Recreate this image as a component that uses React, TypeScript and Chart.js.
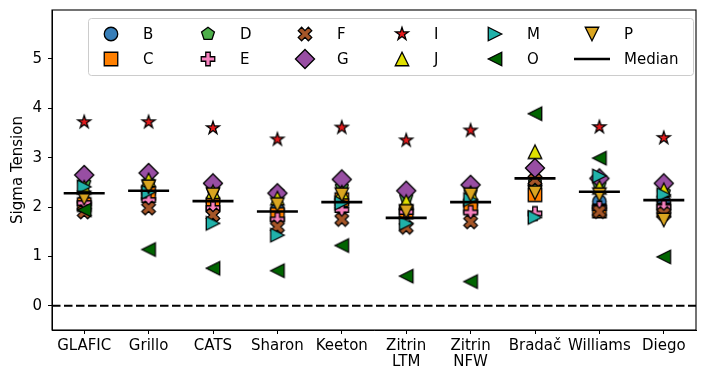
import React, { useEffect, useRef } from "react";
import { Chart, registerables } from "chart.js";
Chart.register(...registerables);

// ---------- data ----------
const categories = ["GLAFIC", "Grillo", "CATS", "Sharon", "Keeton", "Zitrin LTM", "Zitrin NFW", "Bradač", "Williams", "Diego"];
const yTickValues = [0, 1, 2, 3, 4, 5];

const seriesB = [2.10, 2.30, 2.10, 1.95, 2.10, 1.96, 2.05, 2.45, 2.11, 2.11];
const seriesC = [2.05, 2.28, 2.05, 1.85, 2.15, 1.90, 2.01, 2.25, 1.92, 1.94];
const seriesD = [2.49, 2.50, 2.35, 2.30, 2.41, 2.20, 2.30, 2.50, 2.45, 2.30];
const seriesE = [2.08, 2.14, 1.98, 1.75, 1.94, 1.90, 1.89, 1.87, 1.98, 2.00];
const seriesF = [1.90, 1.98, 1.84, 1.60, 1.75, 1.59, 1.70, 2.55, 1.91, 1.87];
const seriesG = [2.65, 2.69, 2.48, 2.28, 2.56, 2.33, 2.45, 2.79, 2.58, 2.48];
const seriesI = [3.72, 3.72, 3.60, 3.37, 3.61, 3.35, 3.55, null, 3.62, 3.40];
const seriesJ = [2.40, 2.55, 2.31, 2.18, 2.30, 2.11, 2.29, 3.12, 2.40, 2.35];
const seriesM = [2.41, 2.30, 1.67, 1.43, 2.08, 1.67, 2.15, 1.79, 2.63, 2.25];
const seriesO = [1.94, 1.14, 0.76, 0.71, 1.22, 0.60, 0.49, 3.89, 2.99, 0.99];
const seriesP = [2.18, 2.41, 2.25, 2.05, 2.25, 1.91, 2.25, 2.29, 2.25, 1.74];
const medianValues = [2.28, 2.33, 2.12, 1.91, 2.10, 1.78, 2.10, 2.58, 2.31, 2.14];

// ---------- styles ----------
const FONT = "DejaVu Sans";
const MS = 13.5;
const EDGE = 1.3;

type Series = { name: string; values: (number | null)[]; shape: string; color: string };
const SERIES: Series[] = [
  { name: "B", values: seriesB, shape: "circle", color: "#377eb8" },
  { name: "C", values: seriesC, shape: "square", color: "#ff7f00" },
  { name: "D", values: seriesD, shape: "pentagon", color: "#4daf4a" },
  { name: "E", values: seriesE, shape: "plus", color: "#f781bf" },
  { name: "F", values: seriesF, shape: "x", color: "#a65628" },
  { name: "G", values: seriesG, shape: "diamond", color: "#984ea3" },
  { name: "I", values: seriesI, shape: "star", color: "#e41a1c" },
  { name: "J", values: seriesJ, shape: "tri_up", color: "#e0e000" },
  { name: "M", values: seriesM, shape: "tri_right", color: "#20b2aa" },
  { name: "O", values: seriesO, shape: "tri_left", color: "#006400" },
  { name: "P", values: seriesP, shape: "tri_down", color: "#daa520" },
];

function polyPts(ctx: CanvasRenderingContext2D, pts: number[][], scale: number) {
  pts.forEach(([x, y], i) => {
    const px = x * scale, py = -y * scale;
    if (i === 0) ctx.moveTo(px, py); else ctx.lineTo(px, py);
  });
  ctx.closePath();
}

function makeMarker(shape: string, color: string, s: number, lw: number): HTMLCanvasElement {
  const half = Math.ceil(s * 0.75 + lw * 2);
  const c = document.createElement("canvas");
  c.width = half * 2;
  c.height = half * 2;
  const ctx = c.getContext("2d")!;
  ctx.translate(half, half);
  ctx.beginPath();
  switch (shape) {
    case "circle":
      ctx.arc(0, 0, s / 2, 0, Math.PI * 2);
      break;
    case "square":
      ctx.rect(-s / 2, -s / 2, s, s);
      break;
    case "pentagon": {
      const pts: number[][] = [];
      for (let k = 0; k < 5; k++) {
        const a = Math.PI / 2 + (k * 2 * Math.PI) / 5;
        pts.push([Math.cos(a) * 0.5, Math.sin(a) * 0.5]);
      }
      polyPts(ctx, pts, s);
      break;
    }
    case "star": {
      const pts: number[][] = [];
      for (let k = 0; k < 10; k++) {
        const a = Math.PI / 2 + (k * Math.PI) / 5;
        const r = k % 2 === 0 ? 0.5 : 0.5 * 0.381966;
        pts.push([Math.cos(a) * r, Math.sin(a) * r]);
      }
      polyPts(ctx, pts, s);
      break;
    }
    case "plus":
      polyPts(ctx, [[-1, -3], [1, -3], [1, -1], [3, -1], [3, 1], [1, 1], [1, 3], [-1, 3], [-1, 1], [-3, 1], [-3, -1], [-1, -1]].map(([x, y]) => [x / 6, y / 6]), s);
      break;
    case "x":
      polyPts(ctx, [[-1, -2], [0, -1], [1, -2], [2, -1], [1, 0], [2, 1], [1, 2], [0, 1], [-1, 2], [-2, 1], [-1, 0], [-2, -1]].map(([x, y]) => [x / 4, y / 4]), s);
      break;
    case "diamond": {
      const d = Math.SQRT1_2;
      polyPts(ctx, [[0, d], [d, 0], [0, -d], [-d, 0]], s);
      break;
    }
    case "tri_up":
      polyPts(ctx, [[0, 0.5], [-0.5, -0.5], [0.5, -0.5]], s);
      break;
    case "tri_down":
      polyPts(ctx, [[0, -0.5], [0.5, 0.5], [-0.5, 0.5]], s);
      break;
    case "tri_right":
      polyPts(ctx, [[0.5, 0], [-0.5, 0.5], [-0.5, -0.5]], s);
      break;
    case "tri_left":
      polyPts(ctx, [[-0.5, 0], [0.5, -0.5], [0.5, 0.5]], s);
      break;
  }
  ctx.fillStyle = color;
  ctx.fill();
  ctx.lineWidth = lw;
  ctx.strokeStyle = "#000";
  ctx.lineJoin = "miter";
  ctx.stroke();
  return c;
}

// legend layout (matplotlib-like: 6 columns x 2 rows)
const legendColumns = [["B", "C"], ["D", "E"], ["F", "G"], ["I", "J"], ["M", "O"], ["P", "Median"]];
const LEG_BOX = { x: 88.5, y: 18.5, w: 605, h: 57 };
const LEG_MARKER_X = [111, 208, 305, 402, 495, 592];
const LEG_ROW_Y = [34, 59];
const LEG_TEXT_DX = 32;

export default function App() {
  const ref = useRef<HTMLCanvasElement | null>(null);

  useEffect(() => {
    document.body.style.margin = "0";
    const markers: Record<string, HTMLCanvasElement> = {};
    SERIES.forEach((s) => (markers[s.name] = makeMarker(s.shape, s.color, MS, EDGE)));

    const datasets: any[] = SERIES.map((s, idx) => ({
      label: s.name,
      data: s.values
        .map((v, i) => (v == null ? null : { x: i, y: v }))
        .filter((p) => p !== null),
      pointStyle: markers[s.name],
      pointRadius: 7,
      showLine: false,
      order: SERIES.length - idx,
    }));
    datasets.push({
      label: "Median",
      data: medianValues.map((v, i) => ({ x: i, y: v })),
      pointStyle: "line",
      pointRadius: 20.5,
      pointBorderWidth: 2.6,
      pointBorderColor: "#000",
      pointBackgroundColor: "#000",
      showLine: false,
      order: 0,
    });
    datasets.push({
      type: "line",
      label: "zero",
      data: [{ x: -0.5, y: 0 }, { x: 9.5, y: 0 }],
      borderColor: "#000",
      borderWidth: 2,
      borderDash: [8.5, 3.5],
      pointRadius: 0,
      showLine: true,
      order: 99,
    });

    const framePlugin = {
      id: "frame",
      afterDatasetsDraw(chart: any) {
        const { ctx, chartArea: a } = chart;
        ctx.save();
        ctx.strokeStyle = "#000";
        ctx.lineWidth = 1.1;
        ctx.strokeRect(a.left, a.top, a.right - a.left, a.bottom - a.top);
        ctx.restore();
      },
    };

    const legendPlugin = {
      id: "mplLegend",
      afterDraw(chart: any) {
        const ctx: CanvasRenderingContext2D = chart.ctx;
        ctx.save();
        const { x, y, w, h } = LEG_BOX;
        const r = 3;
        ctx.beginPath();
        ctx.moveTo(x + r, y);
        ctx.lineTo(x + w - r, y);
        ctx.arcTo(x + w, y, x + w, y + r, r);
        ctx.lineTo(x + w, y + h - r);
        ctx.arcTo(x + w, y + h, x + w - r, y + h, r);
        ctx.lineTo(x + r, y + h);
        ctx.arcTo(x, y + h, x, y + h - r, r);
        ctx.lineTo(x, y + r);
        ctx.arcTo(x, y, x + r, y, r);
        ctx.closePath();
        ctx.fillStyle = "rgba(255,255,255,0.8)";
        ctx.fill();
        ctx.strokeStyle = "#cccccc";
        ctx.lineWidth = 1;
        ctx.stroke();

        ctx.font = `15px "${FONT}"`;
        ctx.textBaseline = "middle";
        ctx.textAlign = "left";
        legendColumns.forEach((col, ci) => {
          col.forEach((name, ri) => {
            const mx = LEG_MARKER_X[ci];
            const my = LEG_ROW_Y[ri];
            if (name === "Median") {
              ctx.beginPath();
              ctx.moveTo(mx - 18, my);
              ctx.lineTo(mx + 18, my);
              ctx.strokeStyle = "#000";
              ctx.lineWidth = 2.6;
              ctx.stroke();
            } else {
              const m = markers[name];
              ctx.drawImage(m, mx - m.width / 2, my - m.height / 2);
            }
            ctx.fillStyle = "#000";
            ctx.fillText(name, mx + LEG_TEXT_DX, my + 1);
          });
        });
        ctx.restore();
      },
    };

    const chart = new Chart(ref.current!, {
      type: "scatter",
      data: { datasets },
      options: {
        animation: false,
        responsive: false,
        events: [],
        layout: { autoPadding: false, padding: { top: 10, right: 10, left: 0, bottom: 0 } },
        plugins: { legend: { display: false }, tooltip: { enabled: false } },
        scales: {
          x: {
            type: "linear",
            min: -0.5,
            max: 9.5,
            afterBuildTicks: (axis: any) => {
              axis.ticks = categories.map((_, i) => ({ value: i }));
            },
            afterFit: (axis: any) => {
              axis.height = 51;
              axis.paddingLeft = 0;
              axis.paddingRight = 0;
            },
            ticks: {
              autoSkip: false,
              maxRotation: 0,
              minRotation: 0,
              padding: 4,
              color: "#000",
              font: { family: FONT, size: 15, lineHeight: 1.07 },
              callback: (value: any) => {
                const name = categories[Math.round(Number(value))];
                return name ? name.split(" ") : "";
              },
            },
            grid: { drawOnChartArea: false, drawTicks: true, tickLength: 4, tickColor: "#000", tickWidth: 1 },
            border: { display: true, color: "#000", width: 1 },
          },
          y: {
            type: "linear",
            min: -0.49,
            max: 5.99,
            afterBuildTicks: (axis: any) => {
              axis.ticks = yTickValues.map((v) => ({ value: v }));
            },
            afterFit: (axis: any) => {
              axis.width = 52;
              axis.paddingTop = 0;
              axis.paddingBottom = 0;
            },
            ticks: {
              padding: 6,
              color: "#000",
              font: { family: FONT, size: 15 },
              callback: (value: any) => String(value),
            },
            title: {
              display: true,
              text: "Sigma Tension",
              color: "#000",
              font: { family: FONT, size: 15 },
              padding: { top: 9.5, bottom: 0 },
            },
            grid: { drawOnChartArea: false, drawTicks: true, tickLength: 4, tickColor: "#000", tickWidth: 1 },
            border: { display: true, color: "#000", width: 1 },
          },
        },
      },
      plugins: [framePlugin, legendPlugin],
    } as any);

    return () => chart.destroy();
  }, []);

  return (
    <div style={{ width: 706, height: 381 }}>
      <canvas ref={ref} width={706} height={381} style={{ display: "block" }} />
    </div>
  );
}
